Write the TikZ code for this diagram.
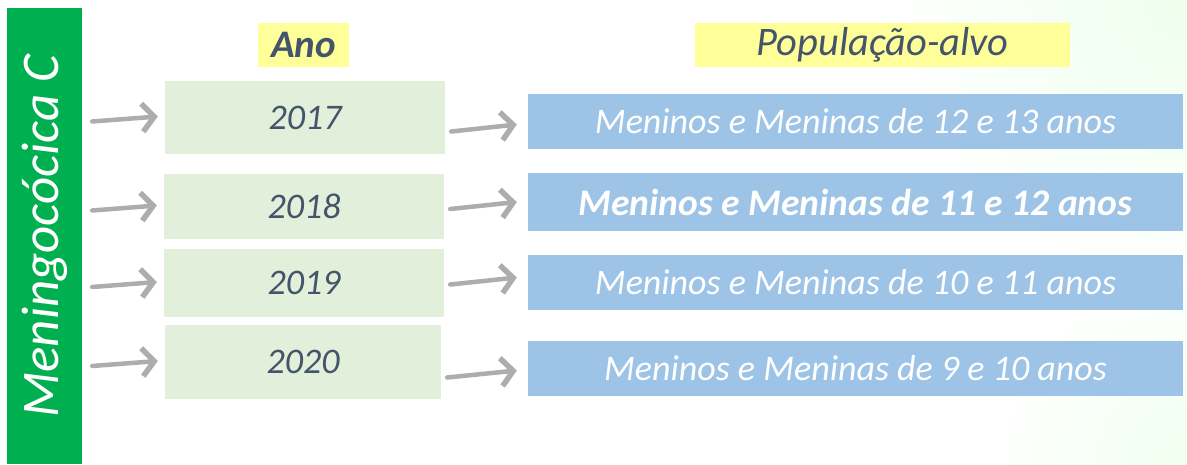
\documentclass[tikz,border=0pt]{standalone}
\usepackage{fontspec}
\setmainfont{Carlito}
\usetikzlibrary{arrows.meta,calc}

\definecolor{barGreen}{HTML}{00B050}
\definecolor{yearGreen}{HTML}{E2EFDA}
\definecolor{popBlue}{HTML}{9DC3E6}
\definecolor{hiYellow}{HTML}{FFFF99}
\definecolor{slate}{HTML}{44546A}
\definecolor{arrGray}{HTML}{ADADAD}

\tikzset{
  yearbox/.style={fill=yearGreen,inner sep=0pt,text=slate,font=\fontsize{36}{36}\selectfont\itshape},
  popbox/.style={fill=popBlue,inner sep=0pt,minimum width=655pt,minimum height=55pt,text=white,font=\fontsize{36}{36}\selectfont\itshape},
  headbox/.style={fill=hiYellow,inner sep=0pt,minimum height=44pt,text=slate},
  arr/.style={draw=arrGray,line width=4.5pt,line cap=round,-{Straight Barb[length=12pt,width=28pt,line width=5.5pt]}}
}

\begin{document}
\begin{tikzpicture}[x=1pt,y=-1pt]
						\useasboundingbox (0,0) rectangle (1187,464);
						\begin{scope}
							\clip (0,0) rectangle (1187,464);
							\shade[inner color=green!7,outer color=white] (1187,0) circle [radius=300pt];
							\shade[inner color=green!6,outer color=white] (1187,464) circle [radius=200pt];
						\end{scope}
						\node[fill=barGreen,rotate=90,inner sep=0pt,minimum width=456pt,minimum height=75pt,text=white,font=\fontsize{53}{53}\selectfont\itshape] (bar) at (44.5,236) {Meningocócica C\hspace{12pt}};
						\node[headbox,minimum width=91pt,font=\fontsize{39}{39}\selectfont\bfseries\itshape] (ano) at (303.5,45) {Ano};
						\node[headbox,minimum width=375pt,font=\fontsize{40.5}{40.5}\selectfont\itshape] (pop) at (882.5,45) {População-alvo};
						\node[yearbox,minimum width=280pt,minimum height=73pt] (y1) at (305,117.5) {2017};
						\node[yearbox,minimum width=280pt,minimum height=65pt] (y2) at (304,206.5) {2018};
						\node[yearbox,minimum width=280pt,minimum height=68pt] (y3) at (304,283) {2019};
						\node[yearbox,minimum width=276pt,minimum height=74pt] (y4) at (303,362) {2020};
						\node[popbox] (p1) at (855.5,121.5) {Meninos e Meninas de 12 e 13 anos};
						\node[popbox,minimum height=58pt,font=\fontsize{37.5}{37.5}\selectfont\bfseries\itshape] (p2) at (855.5,202) {Meninos e Meninas de 11 e 12 anos};
						\node[popbox] (p3) at (855.5,282.5) {Meninos e Meninas de 10 e 11 anos};
						\node[popbox] (p4) at (855.5,368.5) {Meninos e Meninas de 9 e 10 anos};
						\foreach \i in {1,...,4}
							\draw[arr] ($(y\i.west -| bar.south)+(10,4)$) -- ($(y\i.west)+(-7,-1)$);
						\foreach \i/\dy in {1/6,2/3,3/-2,4/5}
							\draw[arr] ($(y\i.east |- p\i.west)+(6,\dy+4)$) -- ($(p\i.west)+(-11,\dy-3)$);
					\end{tikzpicture}
\end{document}
